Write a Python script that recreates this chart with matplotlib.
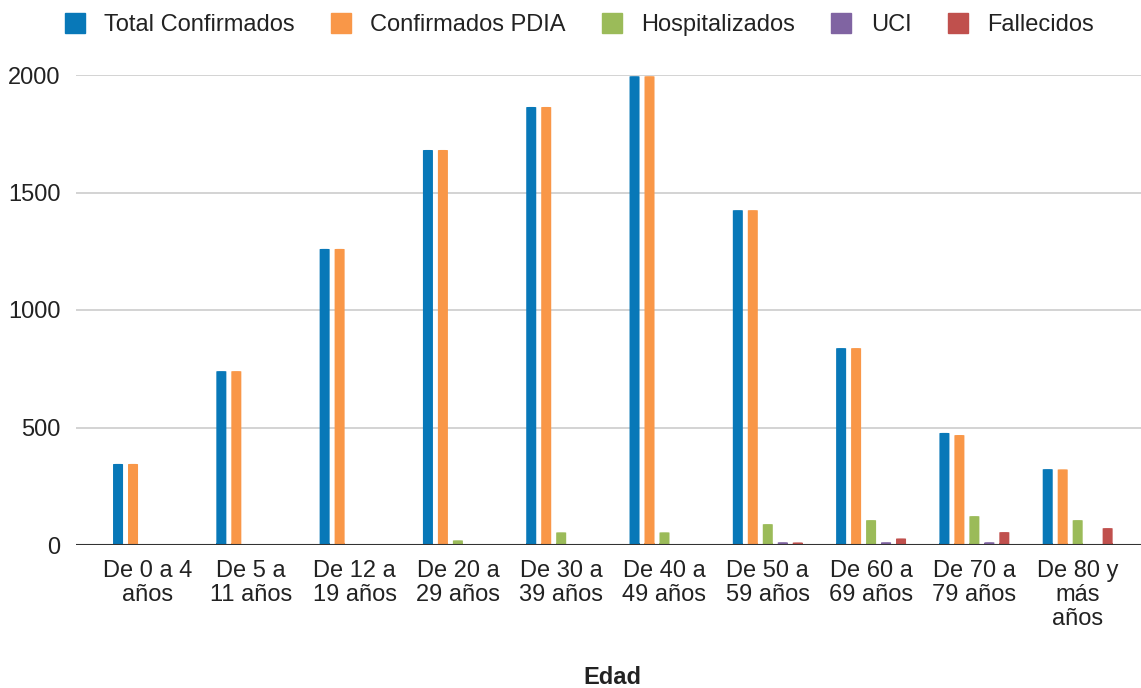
import matplotlib
matplotlib.use("Agg")
import matplotlib.pyplot as plt
import numpy as np
from matplotlib.patches import FancyBboxPatch
from matplotlib.lines import Line2D

plt.rcParams['font.family'] = ['Liberation Sans', 'DejaVu Sans']

categories = ["De 0 a 4\naños", "De 5 a\n11 años", "De 12 a\n19 años", "De 20 a\n29 años",
              "De 30 a\n39 años", "De 40 a\n49 años", "De 50 a\n59 años", "De 60 a\n69 años",
              "De 70 a\n79 años", "De 80 y\nmás\naños"]
series_names = ["Total Confirmados", "Confirmados PDIA", "Hospitalizados", "UCI", "Fallecidos"]
total_confirmados = [345, 740, 1260, 1681, 1864, 1995, 1425, 838, 477, 323]
confirmados_pdia = [345, 740, 1260, 1681, 1864, 1995, 1425, 838, 468, 322]
hospitalizados = [0, 0, 0, 20, 54, 54, 89, 106, 123, 106]
uci = [0, 0, 0, 0, 0, 0, 12, 12, 12, 0]
fallecidos = [0, 0, 0, 0, 0, 0, 11, 28, 55, 72]
yticks = [0, 500, 1000, 1500, 2000]

colors = ['#0878b8', '#f99748', '#9bbb59', '#8064a2', '#c0504d']
data = [total_confirmados, confirmados_pdia, hospitalizados, uci, fallecidos]

FS = 17

fig = plt.figure(figsize=(11.41, 6.88), dpi=100)
ax = fig.add_axes([76/1141, 143/688, 1 - 76/1141, 470/688])

x = np.arange(len(categories))
step = 0.145
width = 0.097
for i, (vals, c) in enumerate(zip(data, colors)):
    off = (i - 2) * step
    for xi, v in zip(x, vals):
        if v <= 0:
            continue
        p = FancyBboxPatch((xi + off - width / 2, 0), width, v,
                           boxstyle="round,pad=0,rounding_size=0.03",
                           mutation_aspect=4.255 / 0.0968,
                           facecolor=c, edgecolor='none', zorder=3)
        ax.add_patch(p)
        # square off the bottom
        ax.bar(xi + off, min(v, 10), width=width, bottom=0, color=c, zorder=3, linewidth=0)

ax.set_xlim(-0.697, 9.613)
ax.set_ylim(0, 2000)
ax.set_yticks(yticks)
ax.set_yticklabels([str(t) for t in yticks], fontsize=FS, color='#222222')
ax.set_xticks(x)
ax.set_xticklabels(categories, fontsize=FS, color='#222222', linespacing=1.1)
ax.tick_params(axis='both', length=0)
ax.tick_params(axis='y', pad=11)
ax.tick_params(axis='x', pad=11)
ax.grid(axis='y', color='#cccccc', linewidth=1.2, zorder=0)
ax.set_axisbelow(True)
for s in ax.spines.values():
    s.set_visible(False)
ax.axhline(0, color='#333333', linewidth=1.5, zorder=4)

fig.text(612 / 1141, 1 - 677 / 688, "Edad", fontsize=FS, fontweight='bold',
         ha='center', va='center', color='#222222')

handles = [Line2D([], [], marker='s', linestyle='none', markersize=15,
                  markerfacecolor=c, markeredgecolor=c) for c in colors]
fig.legend(handles, series_names, loc='center', bbox_to_anchor=(579 / 1141, 1 - 25 / 688),
           ncol=5, frameon=False, fontsize=FS, handlelength=0.9, handletextpad=0.8,
           columnspacing=1.5, labelcolor='#222222')

fig.savefig("out.png", dpi=100, facecolor='white')
